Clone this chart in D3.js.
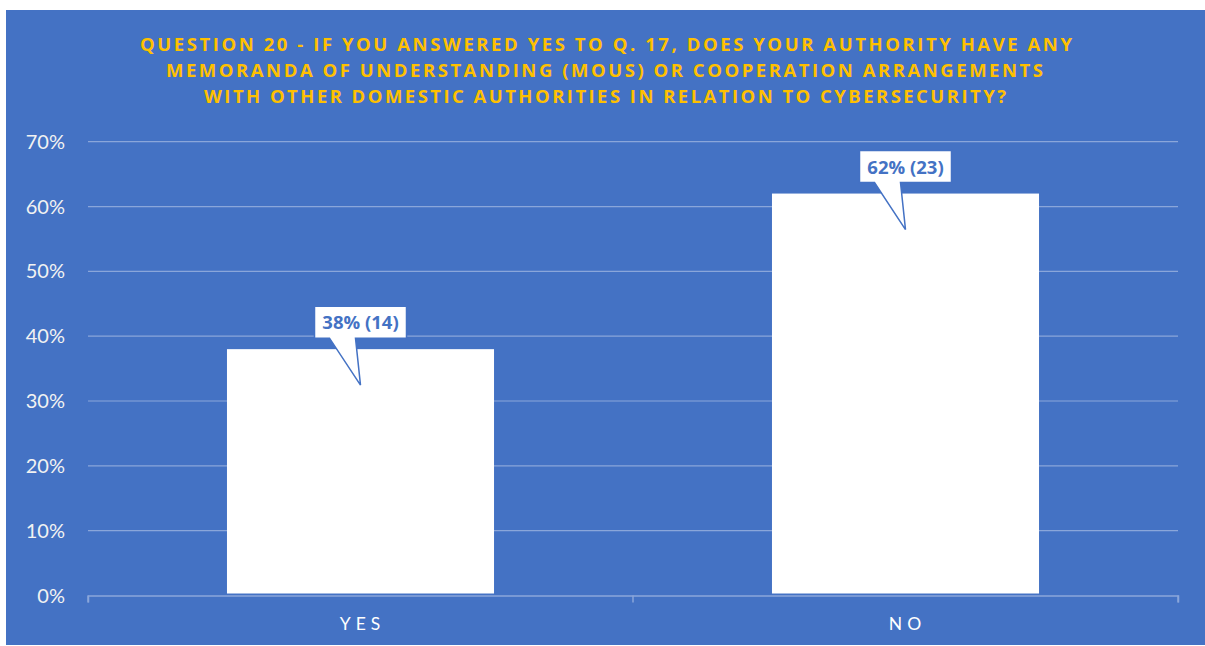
<!DOCTYPE html>
<html>
<head>
<meta charset="utf-8">
<script src="https://cdn.jsdelivr.net/npm/d3@7"></script>
<style>
  html, body { margin: 0; padding: 0; background: #ffffff; }
  svg { display: block; }
</style>
</head>
<body>
<svg id="chart" width="1205" height="646"></svg>
<script>
// Survey answers for question 20
const categories = ["YES", "NO"];
const percentages = [38, 62];
const counts = [14, 23];
const yTicks = [0, 10, 20, 30, 40, 50, 60, 70];
const titleLines = [
  "QUESTION 20 - IF YOU ANSWERED YES TO Q. 17, DOES YOUR AUTHORITY HAVE ANY",
  "MEMORANDA OF UNDERSTANDING (MOUS) OR COOPERATION ARRANGEMENTS",
  "WITH OTHER DOMESTIC AUTHORITIES IN RELATION TO CYBERSECURITY?"
];

const BLUE = "#4472C4";
const GOLD = "#FFC000";
const FONT = "Lato, 'Open Sans', sans-serif";
const BOLD_FONT = "'Open Sans', Lato, sans-serif";

const svg = d3.select("#chart");

// panel background
svg.append("rect")
  .attr("x", 6).attr("y", 10)
  .attr("width", 1199).attr("height", 635)
  .attr("fill", BLUE);

// title, each line stretched to its own width
const titleSpans = [[140, 1072], [166, 1043], [204, 1006]];
const titleBase = [51, 77, 103];
svg.append("g").selectAll("text")
  .data(titleLines)
  .join("text")
  .attr("x", (d, i) => titleSpans[i][0])
  .attr("y", (d, i) => titleBase[i])
  .attr("textLength", (d, i) => titleSpans[i][1] - titleSpans[i][0])
  .attr("lengthAdjust", "spacing")
  .attr("fill", GOLD)
  .attr("font-family", BOLD_FONT)
  .attr("font-weight", 700)
  .attr("font-size", 18.5)
  .text(d => d);

// scales
const x = d3.scaleBand().domain(categories).range([88, 1178]).padding(0);
const y = d3.scaleLinear().domain([0, 70]).range([595.5, 141.7]);
const barW = x.bandwidth() * 0.49;

// gridlines
svg.append("g").selectAll("line")
  .data(yTicks.filter(t => t > 0))
  .join("line")
  .attr("x1", 88).attr("x2", 1178)
  .attr("y1", d => y(d)).attr("y2", d => y(d))
  .attr("stroke", "#8aa6da")
  .attr("stroke-width", 1.2);

// y axis labels
svg.append("g").selectAll("text")
  .data(yTicks)
  .join("text")
  .attr("x", 65)
  .attr("y", d => y(d) + 7)
  .attr("text-anchor", "end")
  .attr("fill", "#f2f2f2")
  .attr("font-family", FONT)
  .attr("font-size", 20)
  .text(d => d + "%");

// bars
svg.append("g").selectAll("rect")
  .data(categories)
  .join("rect")
  .attr("x", d => x(d) + (x.bandwidth() - barW) / 2)
  .attr("y", (d, i) => y(percentages[i]))
  .attr("width", barW)
  .attr("height", (d, i) => y(0) - y(percentages[i]) - 2)
  .attr("fill", "#ffffff");

// x axis line and ticks
const xAxis = d3.axisBottom(x).tickSize(7).tickFormat("").tickSizeOuter(7);
const axisG = svg.append("g")
  .attr("transform", `translate(0,${y(0)})`)
  .call(xAxis);
axisG.select(".domain").attr("stroke", "#8aa6da").attr("stroke-width", 1.5);
axisG.selectAll(".tick").remove();
svg.append("g").selectAll("line")
  .data([88, 633, 1178])
  .join("line")
  .attr("x1", d => d).attr("x2", d => d)
  .attr("y1", y(0)).attr("y2", y(0) + 7)
  .attr("stroke", "#8aa6da").attr("stroke-width", 1.5);

// category labels
svg.append("g").selectAll("text")
  .data(categories)
  .join("text")
  .attr("x", d => x(d) + x.bandwidth() / 2 + 2)
  .attr("y", 630)
  .attr("text-anchor", "middle")
  .attr("fill", "#ffffff")
  .attr("font-family", FONT)
  .attr("font-size", 17.5)
  .attr("letter-spacing", 5)
  .text(d => d);

// callout labels with pointer tails
const boxW = 92, boxH = 32;
const callouts = svg.append("g").selectAll("g")
  .data(categories)
  .join("g");

callouts.append("path")
  .attr("d", (d, i) => {
    const cx = x(d) + x.bandwidth() / 2;
    const top = y(percentages[i]);
    const bBot = top - 11;
    const bTop = bBot - boxH;
    const l = cx - boxW / 2, r = cx + boxW / 2;
    const tip = top + 36;
    return `M${l},${bTop} H${r} V${bBot} H${cx - 5} L${cx},${tip} L${cx - 31},${bBot} H${l} Z`;
  })
  .attr("fill", "#ffffff")
  .attr("stroke", BLUE)
  .attr("stroke-width", 1.5)
  .attr("stroke-linejoin", "miter");

callouts.append("text")
  .attr("x", d => x(d) + x.bandwidth() / 2)
  .attr("y", (d, i) => y(percentages[i]) - 11 - 9)
  .attr("text-anchor", "middle")
  .attr("fill", BLUE)
  .attr("font-family", BOLD_FONT)
  .attr("font-weight", 700)
  .attr("font-size", 18.5)
  .text((d, i) => `${percentages[i]}% (${counts[i]})`);
</script>
</body>
</html>
